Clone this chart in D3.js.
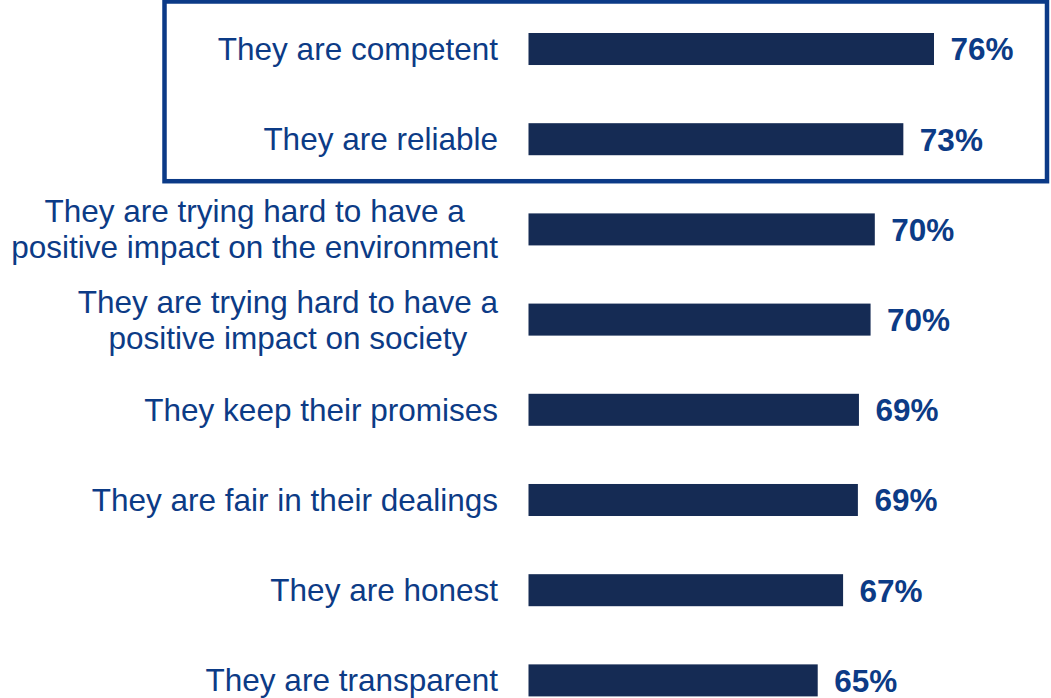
<!DOCTYPE html>
<html>
<head>
<meta charset="utf-8">
<script src="https://cdn.jsdelivr.net/npm/d3@7"></script>
<style>
  html, body { margin: 0; padding: 0; background: #fff; }
  svg { display: block; }
  text { font-family: "Liberation Sans", Arial, sans-serif; }
</style>
</head>
<body>
<svg id="chart" width="1051" height="698"></svg>
<script>
// ---- data ----
const categories = [
  ["They are competent"],
  ["They are reliable"],
  ["They are trying hard to have a", "positive impact on the environment"],
  ["They are trying hard to have a", "positive impact on society"],
  ["They keep their promises"],
  ["They are fair in their dealings"],
  ["They are honest"],
  ["They are transparent"]
];
const values = [76.0, 73.1, 70.4, 70.0, 68.9, 68.8, 67.4, 65.0];
const highlighted = [0, 1];

// ---- layout ----
const W = 1051, H = 698;
const barLeft = 528.5, barRight76 = 934;
const labelRight = 498;
const fontSize = 31.5;
const textColor = "#0c3b86";
const barColor = "#152b54";

const svg = d3.select("#chart");

const ids = categories.map((c, i) => i);
const y = d3.scaleBand().domain(ids).range([33, 696.4]).paddingInner(0.645).paddingOuter(0);
const x = d3.scaleLinear().domain([37.64, 76]).range([barLeft, barRight76]);

// highlight box
const boxTop = y(highlighted[0]) - 31.5;
const boxBottom = y(highlighted[highlighted.length - 1]) + y.bandwidth() + 26;
svg.append("rect")
  .attr("x", 164.5).attr("y", boxTop)
  .attr("width", 1047 - 164.5).attr("height", boxBottom - boxTop)
  .attr("fill", "none").attr("stroke", "#0b3a87").attr("stroke-width", 4.5);

// bars
svg.selectAll("rect.bar").data(values).join("rect")
  .attr("class", "bar")
  .attr("x", x.range()[0])
  .attr("y", (d, i) => y(i))
  .attr("width", d => x(d) - x.range()[0])
  .attr("height", y.bandwidth())
  .attr("fill", barColor);

// value labels
svg.selectAll("text.val").data(values).join("text")
  .attr("class", "val")
  .attr("x", d => x(d) + 16.5)
  .attr("y", (d, i) => y(i) + y.bandwidth() / 2)
  .attr("dy", "0.36em")
  .attr("font-size", fontSize)
  .attr("font-weight", "bold")
  .attr("fill", textColor)
  .text(d => Math.round(d) + "%");

// category labels
const lineH = 36;
const catG = svg.selectAll("g.cat").data(categories).join("g").attr("class", "cat");
catG.each(function(lines, i) {
  const g = d3.select(this);
  const cy = y(i) + y.bandwidth() / 2;
  const n = lines.length;
  const t = g.append("text")
    .attr("font-size", fontSize)
    .attr("fill", textColor);
  lines.forEach((ln, k) => {
    t.append("tspan")
      .attr("y", cy + (k - (n - 1) / 2) * lineH)
      .attr("dy", "0.35em")
      .text(ln);
  });
  if (n === 1) {
    t.attr("text-anchor", "end").selectAll("tspan").attr("x", labelRight);
  } else {
    // center lines within a block that is right-aligned at labelRight
    let maxW = 0;
    t.selectAll("tspan").each(function() { maxW = Math.max(maxW, this.getComputedTextLength()); });
    t.attr("text-anchor", "middle").selectAll("tspan").attr("x", labelRight - maxW / 2);
  }
});
</script>
</body>
</html>
